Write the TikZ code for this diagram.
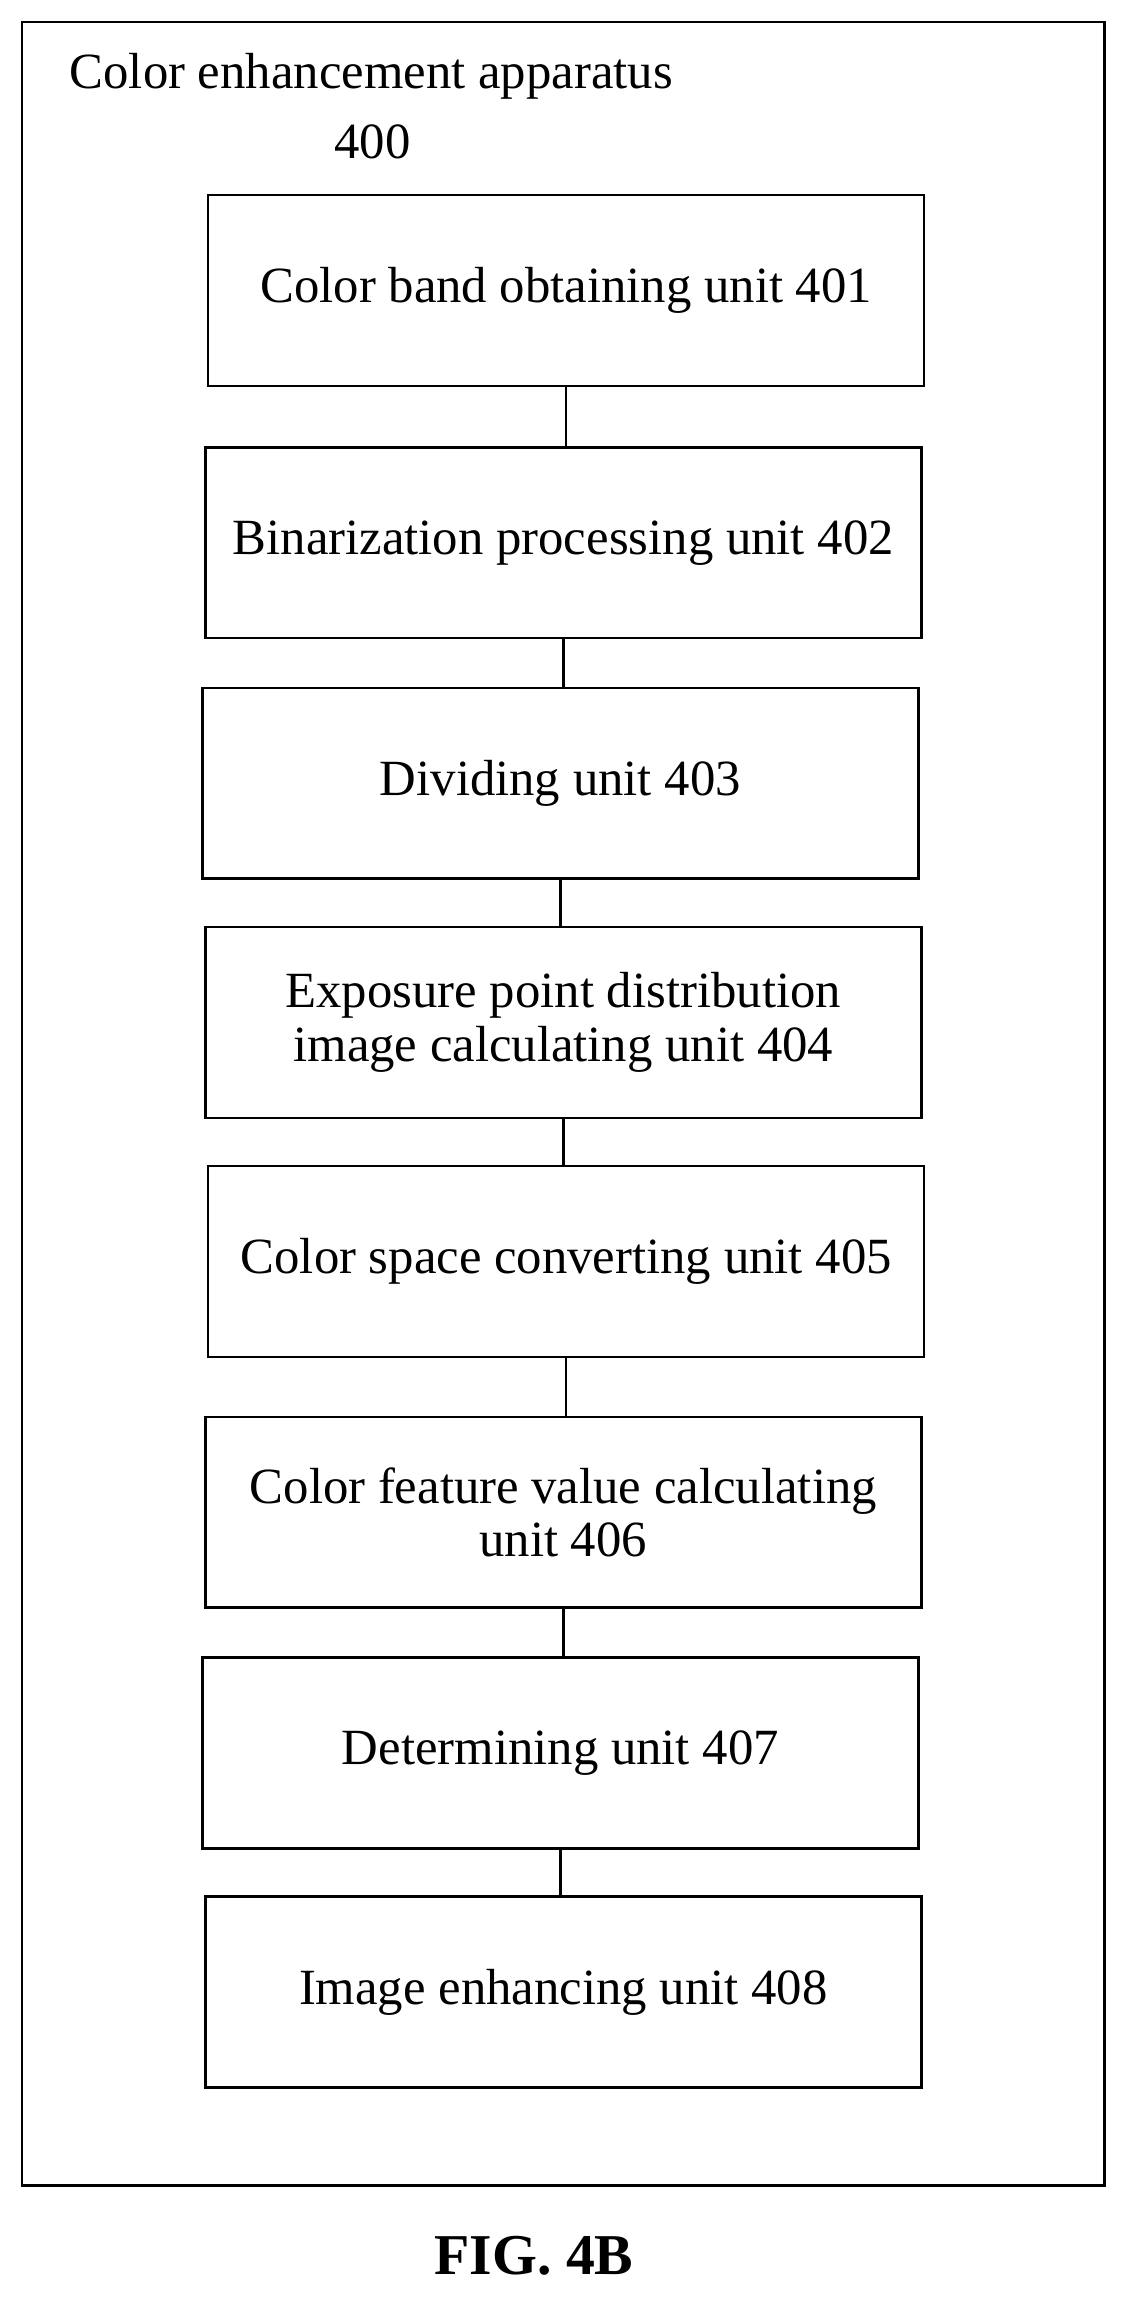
\documentclass[tikz,border=0pt]{standalone}
\usepackage{fontspec}
\setmainfont{Liberation Serif}
\usepackage{tikz}
\begin{document}
\begin{tikzpicture}[x={0.025cm},y={-0.025cm},line width=1.2pt,
    unitbox/.style={draw,minimum width=12.2cm,minimum height=3.25cm,align=center,
      font=\fontsize{24.6}{26}\selectfont}]
            \useasboundingbox (0,0) rectangle (768,1568);
            \draw (15,15) rectangle (753,1490);
            \node[anchor=west,font=\fontsize{24.6}{26}\selectfont] (title) at (42,52) {Color enhancement apparatus};
            \node[font=\fontsize{24.6}{26}\selectfont] (num) at (254,97) {400};
            \node[unitbox] (u1) at (386,198) {Color band obtaining unit 401};
            \node[unitbox] (u2) at (384,370) {Binarization processing unit 402};
            \node[unitbox] (u3) at (382,534) {Dividing unit 403};
            \node[unitbox] (u4) at (384,697) {Exposure point distribution\\image calculating unit 404};
            \node[unitbox] (u5) at (386,860) {Color space converting unit 405};
            \node[unitbox] (u6) at (384,1031) {Color feature value calculating\\unit 406};
            \node[unitbox] (u7) at (382,1195) {Determining unit 407};
            \node[unitbox] (u8) at (384,1358) {Image enhancing unit 408};
            \foreach \a/\b in {u1/u2,u2/u3,u3/u4,u4/u5,u5/u6,u6/u7,u7/u8}
                \draw (\a.south) -- (\a.south |- \b.north);
            \node[font=\fontsize{28}{30}\selectfont\bfseries] (fig) at (364,1538) {FIG. 4B};
        \end{tikzpicture}
\end{document}
